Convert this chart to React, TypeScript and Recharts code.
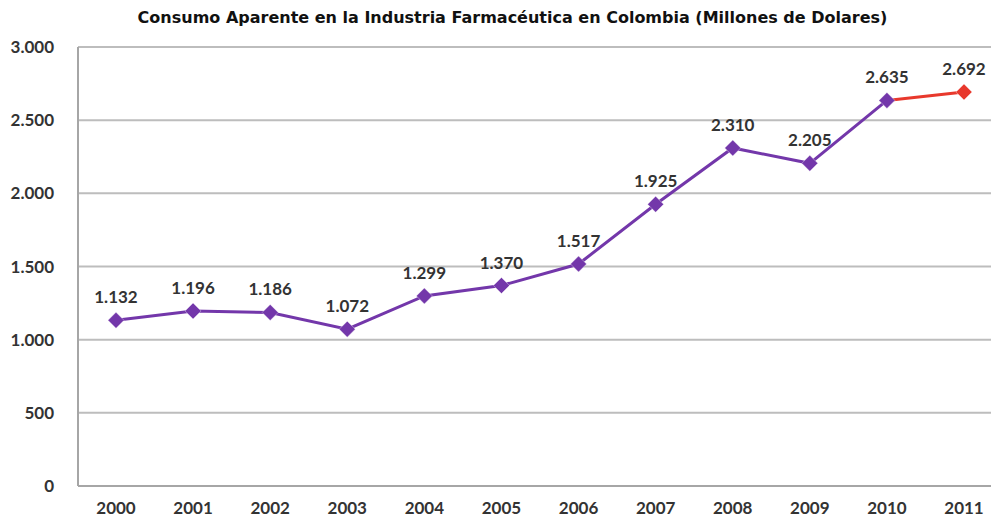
import React from 'react';
import { LineChart, Line, XAxis, YAxis, CartesianGrid, LabelList } from 'recharts';

const years = ['2000', '2001', '2002', '2003', '2004', '2005', '2006', '2007', '2008', '2009', '2010', '2011'];
const consumo = [1132, 1196, 1186, 1072, 1299, 1370, 1517, 1925, 2310, 2205, 2635, null];
const proyeccion = [null, null, null, null, null, null, null, null, null, null, 2635, 2692];
const yTicks = [0, 500, 1000, 1500, 2000, 2500, 3000];

const data = years.map((year, i) => ({ year, consumo: consumo[i], proyeccion: proyeccion[i] }));

const fmt = (v: number) => v.toLocaleString('de-DE');

const PURPLE = '#7337aa';
const RED = '#e8382c';

const Diamond = (color: string, only?: number) => (props: any) => {
  const { cx, cy, index } = props;
  if (cx == null || cy == null) return null;
  if (only != null && index !== only) return <g key={index} />;
  const r = 8;
  return (
    <path
      key={index}
      d={`M${cx},${cy - r} L${cx + r},${cy} L${cx},${cy + r} L${cx - r},${cy} Z`}
      fill={color}
      stroke="#ffffff"
      strokeOpacity={0.35}
      strokeWidth={1}
    />
  );
};

const ValueLabel = (only?: number) => (props: any) => {
  const { x, y, value, index } = props;
  if (value == null) return null;
  if (only != null && index !== only) return null;
  return (
    <text x={x} y={y - 17} textAnchor="middle" fontFamily="Lato" fontWeight="bold" fontSize={17} fill="#333333">
      {fmt(value)}
    </text>
  );
};

const App: React.FC = () => {
  return (
    <div style={{ position: 'absolute', left: 0, top: 0, width: 991, height: 523, overflow: 'hidden', background: '#ffffff' }}>
      <div
        style={{
          position: 'absolute',
          top: 8,
          left: 0,
          width: 1025,
          textAlign: 'center',
          fontFamily: 'DejaVu Sans',
          fontWeight: 'bold',
          fontSize: 16,
          color: '#111111',
        }}
      >
        Consumo Aparente en la Industria Farmacéutica en Colombia (Millones de Dolares)
      </div>
      <LineChart width={1002} height={523} data={data} margin={{ top: 47, right: 0, bottom: 0, left: 0 }}>
        <CartesianGrid vertical={false} stroke="#bdbdbd" strokeWidth={2} />
        <XAxis
          dataKey="year"
          padding={{ left: 38, right: 38 }}
          axisLine={{ stroke: '#a6a6a6', strokeWidth: 2 }}
          tickLine={false}
          height={37}
          tick={{ fontFamily: 'Lato', fontWeight: 'bold', fontSize: 17, fill: '#333333' }}
          tickMargin={10}
        />
        <YAxis
          domain={[0, 3000]}
          ticks={yTicks}
          width={78}
          axisLine={{ stroke: '#a6a6a6', strokeWidth: 2 }}
          tickLine={false}
          tickFormatter={fmt}
          tick={{ fontFamily: 'Lato', fontWeight: 'bold', fontSize: 17, fill: '#333333' }}
          tickMargin={18}
        />
        <Line
          dataKey="proyeccion"
          stroke={RED}
          strokeWidth={3}
          dot={Diamond(RED, 11)}
          activeDot={false}
          connectNulls={false}
          isAnimationActive={false}
        >
          <LabelList dataKey="proyeccion" content={ValueLabel(11)} />
        </Line>
        <Line
          dataKey="consumo"
          stroke={PURPLE}
          strokeWidth={3}
          dot={Diamond(PURPLE)}
          activeDot={false}
          isAnimationActive={false}
        >
          <LabelList dataKey="consumo" content={ValueLabel()} />
        </Line>
      </LineChart>
    </div>
  );
};

export default App;
